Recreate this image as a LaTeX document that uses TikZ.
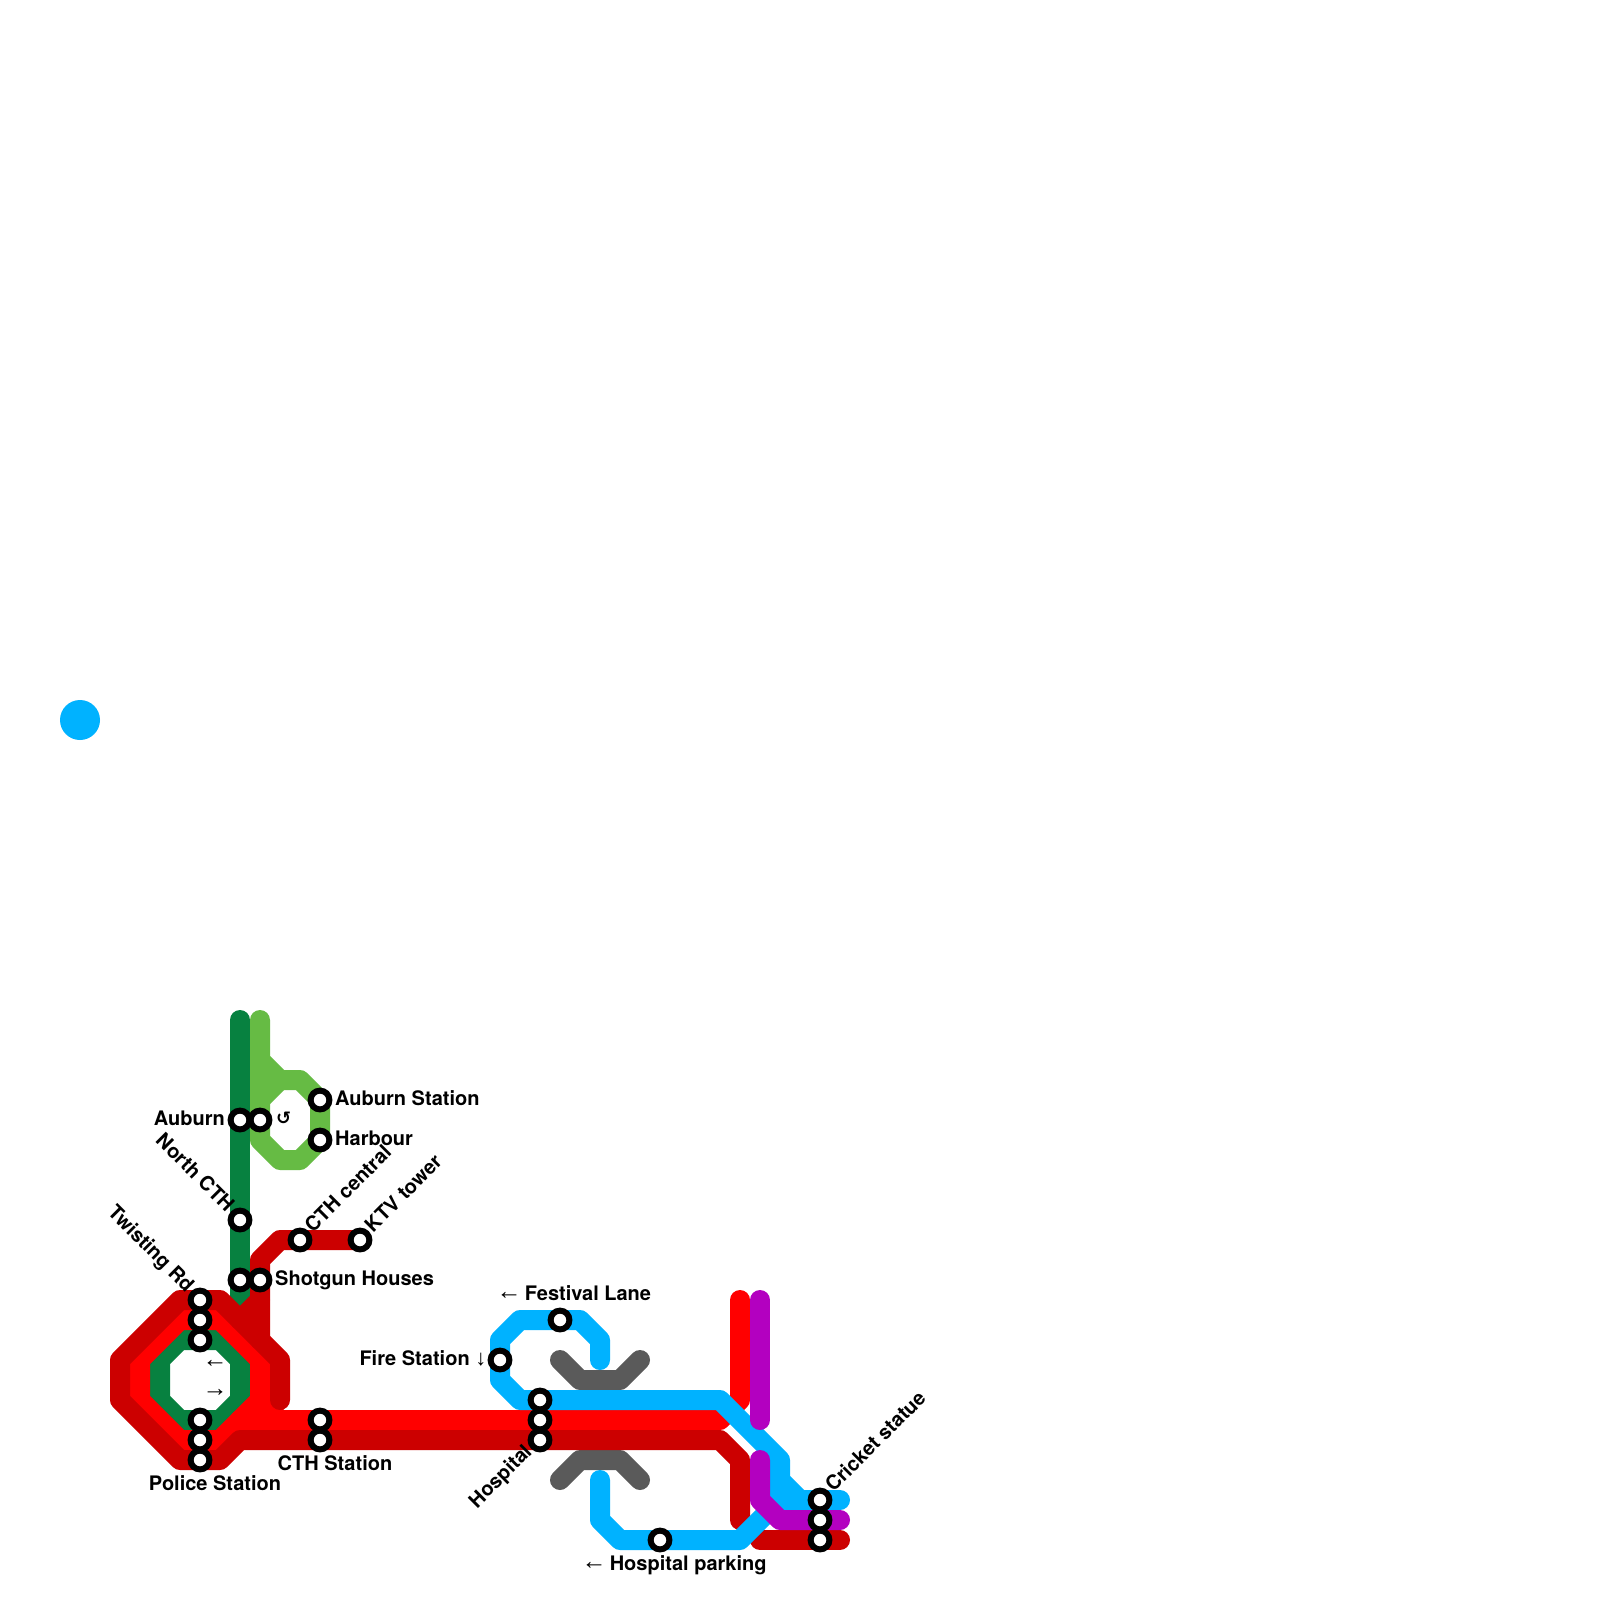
\documentclass[tikz,border=0pt]{standalone}
\usepackage{fontspec}
\setmainfont{TeX Gyre Heros}
\newfontfamily\symfont{DejaVu Sans}
\newfontfamily\arrowfont{Liberation Sans}
\newcommand{\lft}{\makebox[20pt][l]{\hspace*{-2.5pt}\raisebox{1pt}{\arrowfont\mdseries\fontsize{25}{25}\selectfont ←}}}
\newcommand{\rgt}{\makebox[20pt][l]{\hspace*{-2.5pt}\raisebox{1pt}{\arrowfont\mdseries\fontsize{25}{25}\selectfont →}}}
\newcommand{\dwn}{{\arrowfont\mdseries\fontsize{22}{22}\selectfont ↓}}
\definecolor{cdark}{HTML}{CC0000}
\definecolor{cbright}{HTML}{FF0000}
\definecolor{cgreen}{HTML}{078140}
\definecolor{clight}{HTML}{66BB44}
\definecolor{cblue}{HTML}{00B2FF}
\definecolor{cpurple}{HTML}{B300C0}
\definecolor{cgrey}{HTML}{5A5A5A}
\tikzset{
  metro/.style={line width=20pt,line join=round,line cap=round},
  stn/.style={circle,draw=black,fill=white,line width=6pt,minimum size=18.8pt,inner sep=0pt,outer sep=0pt},
  lab/.style={inner sep=0pt,font=\fontsize{20}{24}\selectfont\bfseries},
  arw/.style={inner sep=0pt,font=\fontsize{20}{24}\selectfont},
}
\begin{document}
\begin{tikzpicture}[x=1pt,y=-1pt]
\useasboundingbox (0,0) rectangle (1600,1600);
\fill[white] (0,0) rectangle (1600,1600);
% station positions
\foreach \n/\x/\y in {auburn/240/1120,auburnb/260/1120,aubst/320/1100,harbour/320/1140,north/240/1220,
  shota/240/1280,shotb/260/1280,cthc/300/1240,ktv/360/1240,
  twa/200/1300,twb/200/1320,twc/200/1340,poa/200/1420,pob/200/1440,poc/200/1460,
  ctha/320/1420,cthb/320/1440,hoa/540/1400,hob/540/1420,hoc/540/1440,
  fire/500/1360,fest/560/1320,park/660/1540,cra/820/1500,crb/820/1520,crc/820/1540}
  {\coordinate (\n) at (\x,\y);}
% free circle
\fill[cblue] (80,720) circle (20);
% dark green
\draw[metro,cgreen] (240,1020) -- (auburn) -- (north) -- (shota) -- (240,1360);
\draw[metro,cgreen] (240,1360) -- (240,1400) -- (220,1420) -- (poa) -- (180,1420) -- (160,1400) -- (160,1360) -- (180,1340) -- (twc) -- (220,1340) -- cycle;
% light green
\draw[metro,clight] (260,1020) -- (auburnb) -- (260,1140) -- (280,1160) -- (300,1160) -- (harbour) -- (aubst) -- (300,1080) -- (280,1080) -- (260,1060);
\draw[metro,clight] (260,1100) -- (280,1080);
% grey
\draw[metro,cgrey] (560,1360) -- (580,1380) -- (620,1380) -- (640,1360);
\draw[metro,cgrey] (560,1480) -- (580,1460) -- (620,1460) -- (640,1480);
% bright red
\draw[metro,cbright] (740,1300) -- (740,1400) -- (720,1420) -- (hob) -- (ctha) -- (240,1420) -- (220,1440) -- (pob) -- (180,1440) -- (140,1400) -- (140,1360) -- (180,1320) -- (twb) -- (220,1320) -- (260,1360) -- (260,1400) -- (280,1420);
\draw[metro,cbright] (260,1400) -- (240,1420);
% dark red
\draw[metro,cdark] (ktv) -- (cthc) -- (280,1240) -- (260,1260) -- (shotb) -- (260,1340);
\draw[metro,cdark] (260,1300) -- (240,1320);
\draw[metro,cdark] (280,1400) -- (280,1360) -- (220,1300) -- (twa) -- (180,1300) -- (120,1360) -- (120,1400) -- (180,1460) -- (poc) -- (220,1460) -- (240,1440) -- (cthb) -- (hoc) -- (720,1440) -- (740,1460) -- (740,1520);
\draw[metro,cdark] (760,1540) -- (crc) -- (840,1540);
% blue
\draw[metro,cblue] (600,1360) -- (600,1340) -- (580,1320) -- (fest) -- (520,1320) -- (500,1340) -- (fire) -- (500,1380) -- (520,1400) -- (hoa) -- (720,1400) -- (780,1460) -- (780,1480) -- (800,1500) -- (cra) -- (840,1500);
\draw[metro,cblue] (600,1480) -- (600,1520) -- (620,1540) -- (park) -- (740,1540) -- (780,1500) -- (cra);
\draw[metro,cblue] (780,1480) -- (780,1500);
% purple
\draw[metro,cpurple] (760,1300) -- (760,1420);
\draw[metro,cpurple] (760,1460) -- (760,1500) -- (780,1520) -- (crb) -- (840,1520);
% stations
\foreach \n in {auburn,auburnb,aubst,harbour,north,shota,shotb,cthc,ktv,twa,twb,twc,poa,pob,poc,ctha,cthb,hoa,hob,hoc,fire,fest,park,cra,crb,crc}
  {\node[stn] (st\n) at (\n) {};}
% labels
\node[lab,anchor=base west] (l1) at (335,1105) {Auburn Station};
\node[lab,anchor=base west] (l2) at (335,1145) {Harbour};
\node[lab,anchor=base east] (l3) at (225,1125) {Auburn};
\node[arw,anchor=base west,font=\fontsize{18}{20}\selectfont\symfont\bfseries] (l4) at (276,1124) {↺};
\node[lab,anchor=base east,rotate=-45] (l5) at (226,1213) {North CTH};
\node[lab,anchor=base east,rotate=-45] (l6) at (186,1293) {Twisting Rd};
\node[lab,anchor=base west,rotate=45] (l7) at (313,1233.5) {CTH central};
\node[lab,anchor=base west,rotate=45] (l8) at (373,1233.5) {KTV tower};
\node[lab,anchor=base west] (l9) at (275,1285) {Shotgun Houses};
\node[lab,anchor=base east] (l10) at (486.5,1365) {Fire Station \dwn};
\node[lab,anchor=base] (l11) at (215,1490) {Police Station};
\node[lab,anchor=base] (l12) at (335,1470) {CTH Station};
\node[lab,anchor=base west] (l13) at (499,1300) {\lft{} Festival Lane};
\node[lab,anchor=base east,rotate=45] (l14) at (533,1453) {Hospital};
\node[lab,anchor=base west] (l15) at (584,1570) {\lft{} Hospital parking};
\node[lab,anchor=base west,rotate=45] (l16) at (833.5,1493) {Cricket statue};
\node[arw,anchor=base] (l17) at (215,1368) {\lft};
\node[arw,anchor=base] (l18) at (215,1397) {\rgt};
\end{tikzpicture}
\end{document}
